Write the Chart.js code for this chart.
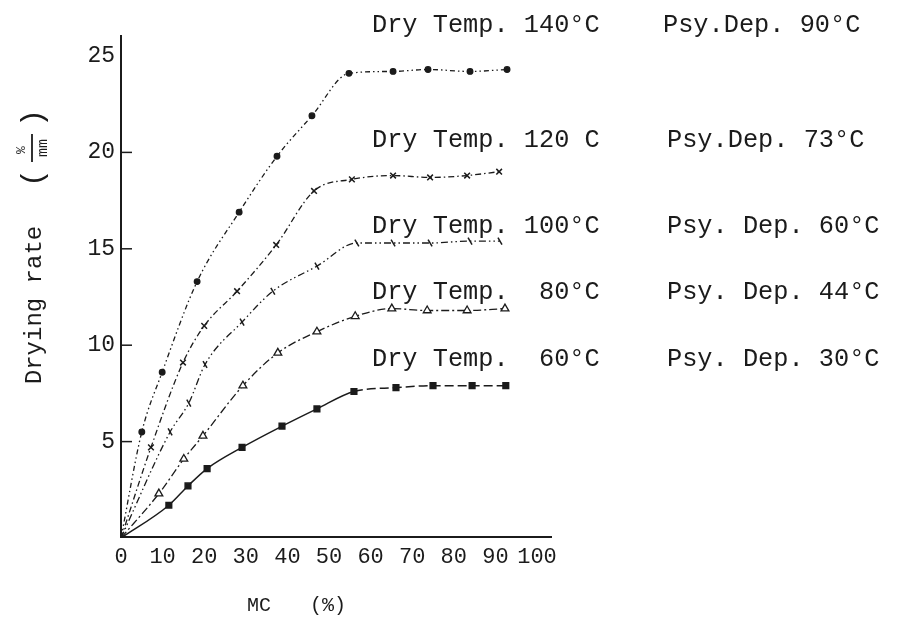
<!DOCTYPE html>
<html>
<head>
<meta charset="utf-8">
<title>Drying rate vs MC</title>
<script src="https://cdn.jsdelivr.net/npm/chart.js@4.4.1/dist/chart.umd.min.js"></script>
<style>
  html, body { margin: 0; padding: 0; background: #fff; }
  canvas { display: block; }
</style>
</head>
<body>
<canvas id="dryingChart" width="904" height="620"></canvas>
<script>
// moisture content (%) against drying rate (%/mm), one pair of arrays per dry temperature
const mc140 = [0, 5.0, 9.9, 18.3, 28.4, 37.5, 45.9, 54.8, 65.4, 73.8, 83.9, 92.8];
const rate140 = [0, 5.5, 8.6, 13.3, 16.9, 19.8, 21.9, 24.1, 24.2, 24.3, 24.2, 24.3];
const mc120 = [0, 7.2, 14.9, 20.0, 27.9, 37.3, 46.4, 55.5, 65.4, 74.3, 83.2, 90.9];
const rate120 = [0, 4.7, 9.1, 11.0, 12.8, 15.2, 18.0, 18.6, 18.8, 18.7, 18.8, 19.0];
const mc100 = [0, 11.8, 16.3, 20.2, 29.1, 36.5, 47.1, 56.7, 65.4, 74.3, 83.9, 91.1];
const rate100 = [0, 5.5, 7.0, 9.0, 11.2, 12.8, 14.1, 15.3, 15.3, 15.3, 15.4, 15.4];
const mc80 = [0, 9.1, 15.1, 19.7, 29.3, 37.7, 47.1, 56.3, 65.1, 73.6, 83.2, 92.3];
const rate80 = [0, 2.3, 4.1, 5.3, 7.9, 9.6, 10.7, 11.5, 11.9, 11.8, 11.8, 11.9];
const mc60 = [0, 11.5, 16.1, 20.7, 29.1, 38.7, 47.1, 56.0, 66.1, 75.0, 84.4, 92.5];
const rate60 = [0, 1.7, 2.7, 3.6, 4.7, 5.8, 6.7, 7.6, 7.8, 7.9, 7.9, 7.9];

const dryTempLabels = ['Dry Temp. 140°C', 'Dry Temp. 120 C', 'Dry Temp. 100°C', 'Dry Temp.  80°C', 'Dry Temp.  60°C'];
const psyDepLabels = ['Psy.Dep. 90°C', 'Psy.Dep. 73°C', 'Psy. Dep. 60°C', 'Psy. Dep. 44°C', 'Psy. Dep. 30°C'];
const yTickMarks = [5, 10, 15, 20];

const ink = '#1b1b1b';
const typeFace = '"Liberation Mono", "DejaVu Sans Mono", monospace';

function pairs(xs, ys) {
    return xs.map((x, i) => ({ x: x, y: ys[i] }));
}

// no marker at the common origin
const hideOrigin = (r) => (ctx) => (ctx.dataIndex === 0 ? 0 : r);

// axes, inward tick marks, titles and the condition labels, typed-sheet style
const sheetPlugin = {
    id: 'sheet',
    beforeDraw(chart) {
        const c = chart.ctx;
        c.save();
        c.fillStyle = '#fff';
        c.fillRect(0, 0, chart.width, chart.height);
        c.restore();
    },
    beforeDatasetsDraw(chart) {
        const c = chart.ctx;
        const xs = chart.scales.x;
        const ys = chart.scales.y;
        const x0 = xs.getPixelForValue(0);
        const y0 = ys.getPixelForValue(0);
        c.save();
        c.strokeStyle = ink;
        c.lineWidth = 2;
        c.beginPath();
        c.moveTo(x0, 35);
        c.lineTo(x0, y0);
        c.moveTo(x0, y0 - 1);
        c.lineTo(552, y0 - 1);
        c.stroke();
        c.lineWidth = 1.5;
        yTickMarks.forEach((v) => {
            const y = ys.getPixelForValue(v);
            c.beginPath();
            c.moveTo(x0, y);
            c.lineTo(x0 + 11, y);
            c.stroke();
        });
        c.restore();
    },
    afterDraw(chart) {
        const c = chart.ctx;
        c.save();
        c.fillStyle = ink;
        c.strokeStyle = ink;
        c.textBaseline = 'middle';

        // condition labels, two typed columns
        c.font = '25.3px ' + typeFace;
        const rowY = [25, 140, 226, 292, 359];
        const psyX = [663, 667, 667, 667, 667];
        dryTempLabels.forEach((t, i) => c.fillText(t, 372, rowY[i]));
        psyDepLabels.forEach((t, i) => c.fillText(t, psyX[i], rowY[i]));

        // x title
        c.font = '20px ' + typeFace;
        c.fillText('MC', 247, 606);
        c.fillText('(%)', 310, 606);

        // y title, reading upward
        c.save();
        c.translate(35, 305);
        c.rotate(-Math.PI / 2);
        c.textAlign = 'center';
        c.font = '24px ' + typeFace;
        c.fillText('Drying rate', 0, 0);
        c.restore();

        // unit as a fraction in brackets
        c.save();
        c.translate(32, 148);
        c.rotate(-Math.PI / 2);
        c.textAlign = 'center';
        c.font = '30px ' + typeFace;
        c.fillText('(', -30, 2);
        c.fillText(')', 30, 2);
        c.font = '13px ' + typeFace;
        c.fillText('%', -2, -10);
        c.font = '15px ' + typeFace;
        c.fillText('mm', 0, 11);
        c.lineWidth = 1.8;
        c.beginPath();
        c.moveTo(-14, 0);
        c.lineTo(14, 0);
        c.stroke();
        c.restore();

        c.restore();
    },
};

new Chart(document.getElementById('dryingChart'), {
    type: 'line',
    data: {
        datasets: [
            {
                label: dryTempLabels[0],
                data: pairs(mc140, rate140),
                borderColor: ink,
                borderWidth: 1.3,
                borderDash: [5, 3, 1.5, 3, 1.5, 3],
                pointStyle: 'circle',
                pointRadius: hideOrigin(2.8),
                pointBackgroundColor: ink,
                pointBorderColor: ink,
                cubicInterpolationMode: 'monotone',
            },
            {
                label: dryTempLabels[1],
                data: pairs(mc120, rate120),
                borderColor: ink,
                borderWidth: 1.3,
                borderDash: [6, 3, 1.5, 3],
                pointStyle: 'crossRot',
                pointRadius: hideOrigin(4),
                pointBorderWidth: 1.5,
                pointBorderColor: ink,
                cubicInterpolationMode: 'monotone',
            },
            {
                label: dryTempLabels[2],
                data: pairs(mc100, rate100),
                borderColor: ink,
                borderWidth: 1.3,
                borderDash: [7, 3, 1.5, 3, 1.5, 3],
                pointStyle: 'line',
                pointRotation: 60,
                pointRadius: hideOrigin(4),
                pointBorderWidth: 1.5,
                pointBorderColor: ink,
                cubicInterpolationMode: 'monotone',
            },
            {
                label: dryTempLabels[3],
                data: pairs(mc80, rate80),
                borderColor: ink,
                borderWidth: 1.3,
                borderDash: [8, 3, 2, 3],
                pointStyle: 'triangle',
                pointRadius: hideOrigin(4.5),
                pointBorderWidth: 1.3,
                pointBackgroundColor: '#fff',
                pointBorderColor: ink,
                cubicInterpolationMode: 'monotone',
            },
            {
                label: dryTempLabels[4],
                data: pairs(mc60, rate60),
                borderColor: ink,
                borderWidth: 1.5,
                pointStyle: 'rect',
                pointRadius: hideOrigin(4),
                pointBackgroundColor: ink,
                pointBorderColor: ink,
                cubicInterpolationMode: 'monotone',
                segment: {
                    borderDash: (ctx) => (ctx.p0.parsed.x > 50 ? [9, 4] : undefined),
                },
            },
        ],
    },
    options: {
        responsive: false,
        animation: false,
        layout: {
            autoPadding: false,
            padding: { left: 0, right: 367, top: 56, bottom: 0 },
        },
        plugins: {
            legend: { display: false },
            tooltip: { enabled: false },
        },
        scales: {
            x: {
                type: 'linear',
                min: 0,
                max: 100,
                grid: { display: false, drawTicks: false },
                border: { display: false },
                ticks: {
                    stepSize: 10,
                    padding: 6,
                    autoSkip: false,
                    maxRotation: 0,
                    color: ink,
                    font: { family: typeFace, size: 22 },
                },
                afterFit: (s) => { s.height = 82; },
            },
            y: {
                type: 'linear',
                min: 0,
                max: 25,
                grid: { display: false, drawTicks: false },
                border: { display: false },
                ticks: {
                    stepSize: 5,
                    padding: 6,
                    color: ink,
                    font: { family: typeFace, size: 23 },
                    callback: (v) => (v === 0 ? '' : v),
                },
                afterFit: (s) => { s.width = 121; },
            },
        },
    },
    plugins: [sheetPlugin],
});
</script>
</body>
</html>
